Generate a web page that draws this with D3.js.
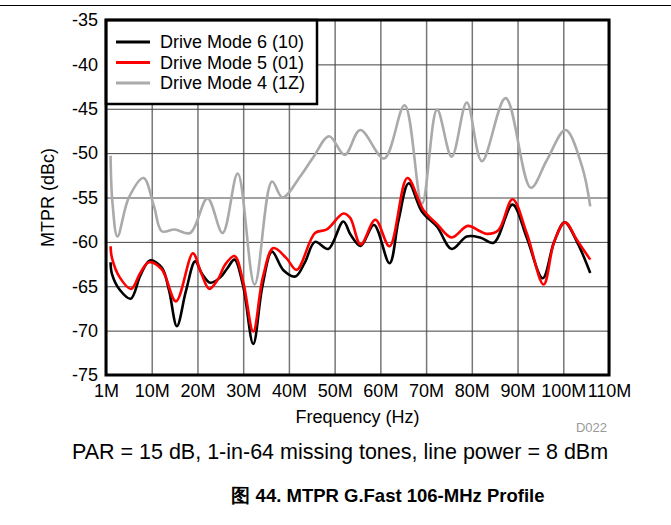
<!DOCTYPE html>
<html>
<head>
<meta charset="utf-8">
<script src="https://cdn.jsdelivr.net/npm/d3@7"></script>
<style>
  body { margin: 0; background: #fff; }
  svg text { font-family: "Liberation Sans", Arial, sans-serif; }
</style>
</head>
<body>
<div id="chart"></div>
<script>
// x positions on the axis (0 = "1M" tick), y in dBc
var xTicks = [0, 10, 20, 30, 40, 50, 60, 70, 80, 90, 100, 110]
var xTickLabels = ['1M', '10M', '20M', '30M', '40M', '50M', '60M', '70M', '80M', '90M', '100M', '110M']
var yTicks = [-75, -70, -65, -60, -55, -50, -45, -40, -35]

var mode6X = [1.0, 1.3, 3.0, 5.4, 7.5, 9.6, 12.2, 13.8, 15.5, 17.5, 19.5, 21.0, 22.8, 25.0, 26.5, 28.1, 30.0, 32.2, 34.2, 36.3, 38.8, 41.4, 43.5, 45.7, 48.6, 51.9, 53.5, 55.7, 58.6, 62.0, 64.0, 66.2, 69.1, 72.4, 75.6, 78.9, 81.8, 84.8, 88.9, 92.0, 95.5, 98.0, 100.3, 103.0, 105.9]
var mode6Y = [-62.3, -63.6, -65.4, -66.4, -63.8, -62.1, -62.9, -65.5, -69.5, -65.5, -62.2, -63.6, -64.6, -64.0, -63.0, -62.0, -65.0, -71.5, -65.0, -61.1, -63.2, -63.9, -62.3, -60.0, -60.8, -57.7, -59.2, -60.45, -58.1, -62.4, -57.5, -53.4, -56.6, -58.3, -60.8, -59.4, -59.5, -60.1, -55.8, -59.5, -64.1, -60.0, -57.8, -60.0, -63.5]

var mode5X = [1.0, 1.3, 3.0, 5.5, 7.5, 9.4, 12.2, 15.3, 19.0, 20.8, 22.6, 24.5, 26.0, 28.1, 30.0, 32.2, 34.3, 36.6, 39.4, 41.7, 45.7, 48.3, 51.9, 53.4, 55.7, 58.9, 62.0, 65.9, 69.4, 72.4, 75.6, 79.1, 81.8, 83.3, 85.8, 88.9, 92.0, 95.7, 98.0, 100.4, 103.0, 105.9]
var mode5Y = [-60.5, -61.8, -64.0, -65.3, -63.5, -62.3, -63.1, -66.7, -61.3, -63.5, -65.3, -64.2, -62.6, -61.6, -64.5, -70.1, -64.0, -60.7, -61.8, -63.15, -59.0, -58.6, -56.8, -57.3, -60.3, -57.5, -60.5, -52.8, -56.4, -58.0, -59.5, -58.2, -58.8, -59.1, -58.7, -55.2, -59.0, -64.8, -60.0, -57.8, -59.8, -62.0]

var mode4X = [1.0, 1.4, 2.5, 5.0, 8.2, 10.5, 12.2, 15.0, 18.4, 22.2, 25.5, 28.8, 32.5, 36.3, 38.6, 42.5, 45.4, 48.8, 52.2, 55.6, 60.8, 65.3, 69.1, 72.4, 75.6, 78.9, 82.2, 87.4, 92.9, 96.4, 100.5, 104.1, 105.9]
var mode4Y = [-50.3, -55.5, -59.4, -55.0, -52.8, -56.0, -58.8, -58.6, -59.0, -55.1, -59.0, -52.3, -64.8, -53.2, -55.0, -52.6, -50.4, -48.1, -50.2, -47.4, -50.6, -44.6, -55.7, -45.1, -50.4, -44.3, -50.9, -43.8, -53.9, -50.8, -47.4, -51.5, -56.0]

var seriesNames = ['Drive Mode 6 (10)', 'Drive Mode 5 (01)', 'Drive Mode 4 (1Z)']
var seriesColors = ['#000000', '#ff0000', '#aaaaaa']

var width = 671, height = 525
var margin = {left: 106, top: 20, right: 62, bottom: 150}
var w = width - margin.left - margin.right
var h = height - margin.top - margin.bottom

var svg = d3.select('#chart')
    .append('svg')
    .attr('width', width)
    .attr('height', height)

// rule across the top of the page
svg.append('line')
    .attr('x1', 0).attr('x2', width)
    .attr('y1', 5.5).attr('y2', 5.5)
    .attr('stroke', '#000')
    .attr('stroke-width', 1.2)

var g = svg.append('g')
    .attr('transform', 'translate(' + margin.left + ',' + margin.top + ')')

var x = d3.scaleLinear().domain([0, 110]).range([0, w])
var y = d3.scaleLinear().domain([-75, -35]).range([h, 0])

// grid
var xAxis = g.append('g')
    .attr('transform', 'translate(0,' + h + ')')
    .call(d3.axisBottom(x)
        .tickValues(xTicks)
        .tickSize(-h)
        .tickPadding(9)
        .tickFormat(function(d, i) { return xTickLabels[i] }))
xAxis.select('.domain').remove()
xAxis.selectAll('line')
    .attr('stroke', '#777')
    .attr('stroke-width', 1.5)
xAxis.selectAll('text')
    .attr('font-size', 18)
    .attr('fill', '#000')

var yAxis = g.append('g')
    .call(d3.axisLeft(y)
        .tickValues(yTicks)
        .tickSize(-w)
        .tickPadding(8)
        .tickFormat(function(d) { return String(d) }))
yAxis.select('.domain').remove()
yAxis.selectAll('line')
    .attr('stroke', '#444')
    .attr('stroke-width', 1)
yAxis.selectAll('text')
    .attr('font-size', 18)
    .attr('fill', '#000')

g.append('clipPath')
    .attr('id', 'clip')
    .append('rect')
    .attr('width', w)
    .attr('height', h)

var line = d3.line()
    .x(function(d) { return x(d[0]) })
    .y(function(d) { return y(d[1]) })
    .curve(d3.curveCatmullRom.alpha(0.5))

var series = [
    {name: seriesNames[2], color: seriesColors[2], xs: mode4X, ys: mode4Y},
    {name: seriesNames[0], color: seriesColors[0], xs: mode6X, ys: mode6Y},
    {name: seriesNames[1], color: seriesColors[1], xs: mode5X, ys: mode5Y}
]

g.append('g')
    .attr('clip-path', 'url(#clip)')
    .selectAll('path')
    .data(series)
    .enter()
    .append('path')
    .attr('d', function(s) { return line(d3.zip(s.xs, s.ys)) })
    .attr('fill', 'none')
    .attr('stroke', function(s) { return s.color })
    .attr('stroke-width', 2.6)
    .attr('stroke-linejoin', 'round')

// legend
var legend = g.append('g')
legend.append('rect')
    .attr('x', 0).attr('y', 0)
    .attr('width', 211).attr('height', 84)
    .attr('fill', '#fff')
    .attr('stroke', '#000')
    .attr('stroke-width', 2.5)

legend.selectAll('g.item')
    .data(seriesNames)
    .enter()
    .append('g')
    .attr('class', 'item')
    .attr('transform', function(d, i) { return 'translate(0,' + (22 + i * 20.5) + ')' })
    .each(function(d, i) {
        var it = d3.select(this)
        it.append('line')
            .attr('x1', 10).attr('x2', 44)
            .attr('stroke', seriesColors[i])
            .attr('stroke-width', 3)
        it.append('text')
            .attr('x', 54)
            .attr('dy', '0.35em')
            .attr('font-size', 18)
            .text(d)
    })

// frame
g.append('rect')
    .attr('width', w).attr('height', h)
    .attr('fill', 'none')
    .attr('stroke', '#000')
    .attr('stroke-width', 3)

// labels
svg.append('text')
    .attr('transform', 'translate(48,' + (margin.top + h / 2) + ') rotate(-90)')
    .attr('text-anchor', 'middle')
    .attr('dy', '0.35em')
    .attr('font-size', 18)
    .text('MTPR (dBc)')

svg.append('text')
    .attr('x', margin.left + w / 2)
    .attr('y', 423)
    .attr('text-anchor', 'middle')
    .attr('font-size', 18)
    .text('Frequency (Hz)')

svg.append('text')
    .attr('x', 607)
    .attr('y', 432)
    .attr('text-anchor', 'end')
    .attr('font-size', 13)
    .attr('fill', '#999')
    .text('D022')

svg.append('text')
    .attr('x', 340)
    .attr('y', 459)
    .attr('text-anchor', 'middle')
    .attr('font-size', 21.5)
    .text('PAR = 15 dB, 1-in-64 missing tones, line power = 8 dBm')

svg.append('text')
    .attr('x', 388)
    .attr('y', 502)
    .attr('text-anchor', 'middle')
    .attr('font-size', 18.5)
    .attr('font-weight', 'bold')
    .text('图 44. MTPR G.Fast 106-MHz Profile')
</script>
</body>
</html>
